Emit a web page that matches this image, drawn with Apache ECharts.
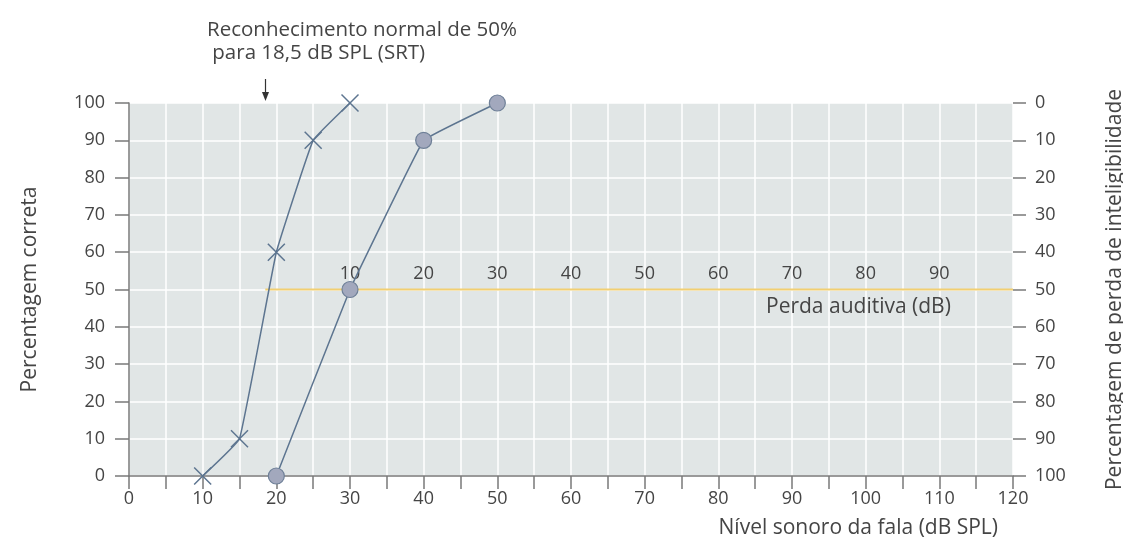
<!DOCTYPE html>
<html><head><meta charset="utf-8">
<script src="https://cdn.jsdelivr.net/npm/echarts@6/dist/echarts.min.js"></script>
<style>html,body{margin:0;padding:0;background:#fff}#c{width:1123px;height:546px}</style>
</head><body><div id="c"></div>
<script>
// Data
const normalCurve = [[10,0],[15,10],[20,60],[25,90],[30,100]];
const lossCurve = [[20,0],[30,50],[40,90],[50,100]];
const srtLine = [[18.5,50],[120,50]];
const hearingLossTicks = [10,20,30,40,50,60,70,80,90];
const xTitle = 'Nível sonoro da fala (dB SPL)';
const yLeftTitle = 'Percentagem correta';
const yRightTitle = 'Percentagem de perda de inteligibilidade';
const lossTitle = 'Perda auditiva (dB)';
const annotation = 'Reconhecimento normal de 50%\n para 18,5 dB SPL (SRT)';

const FONT = 'Open Sans';
const TXT = '#454545';
const AX = '#7a7a7a';
const LINE = '#5d7590';

const chart = echarts.init(document.getElementById('c'));
chart.setOption({
  animation: false,
  textStyle: {fontFamily: FONT},
  grid: {left: 129, right: 110, top: 103, bottom: 70, show: true, backgroundColor: '#e1e6e6', borderWidth: 0,
         containLabel: false, outerBoundsMode: 'none'},
  xAxis: [{
    type: 'value', min: 0, max: 120, interval: 5, position: 'bottom',
    axisLine: {show: true, onZero: false, lineStyle: {color: AX, width: 1.5}},
    axisTick: {show: true, length: 13, lineStyle: {color: AX, width: 1.5}},
    axisLabel: {color: TXT, fontSize: 18, margin: 14, formatter: v => (v % 10 === 0 ? String(v) : '')},
    splitLine: {show: true, lineStyle: {color: '#ffffff', width: 1.5}},
    name: xTitle, nameLocation: 'end', nameGap: 0,
    nameTextStyle: {color: TXT, fontSize: 21, align: 'right', verticalAlign: 'top', padding: [42, 15, 0, 0]}
  }, {
    type: 'value', min: -20, max: 100, interval: 10, position: 'top', offset: -187,
    axisLine: {show: false, onZero: false}, axisTick: {show: false}, splitLine: {show: false},
    axisLabel: {color: TXT, fontSize: 18, margin: 7,
      formatter: v => (hearingLossTicks.indexOf(v) >= 0 ? String(v) : '')}
  }],
  yAxis: [{
    type: 'value', min: 0, max: 100, interval: 10, position: 'left',
    axisLine: {show: true, onZero: false, lineStyle: {color: AX, width: 1.5}},
    axisTick: {show: true, length: 14, lineStyle: {color: AX, width: 1.5}},
    axisLabel: {color: TXT, fontSize: 18, margin: 24},
    splitLine: {show: true, lineStyle: {color: '#ffffff', width: 1.5}},
    name: yLeftTitle, nameLocation: 'middle', nameGap: 88, nameRotate: 90,
    nameTextStyle: {color: TXT, fontSize: 21}
  }, {
    type: 'value', min: 0, max: 100, interval: 10, position: 'right', inverse: true,
    axisLine: {show: false, onZero: false},
    axisTick: {show: true, length: 13, lineStyle: {color: AX, width: 1.5}},
    axisLabel: {color: TXT, fontSize: 18, margin: 22},
    splitLine: {show: false},
    name: yRightTitle, nameLocation: 'middle', nameGap: 92, nameRotate: 90,
    nameTextStyle: {color: TXT, fontSize: 21}
  }],
  series: [{
    type: 'line', data: srtLine, symbol: 'none', silent: true,
    lineStyle: {color: '#f2cf72', width: 2}, z: 1
  }, {
    type: 'line', data: normalCurve, smooth: 0.08,
    symbol: 'path://M0,0L10,10M10,0L0,10', symbolSize: 17,
    itemStyle: {color: 'none', borderColor: LINE, borderWidth: 1.5},
    lineStyle: {color: LINE, width: 1.5}, z: 3
  }, {
    type: 'line', data: lossCurve, smooth: 0.05,
    symbol: 'circle', symbolSize: 16,
    itemStyle: {color: '#a2a8bd', borderColor: '#6f8098', borderWidth: 1.2},
    lineStyle: {color: LINE, width: 1.5}, z: 4
  }],
  graphic: [{
    type: 'text', left: 207, top: 19, z: 100,
    style: {text: annotation, fill: TXT, fontSize: 20.5, fontFamily: FONT, lineHeight: 23}
  }, {
    type: 'line', z: 100, shape: {x1: 265.5, y1: 79, x2: 265.5, y2: 95}, style: {stroke: '#333', lineWidth: 1.2}
  }, {
    type: 'polygon', z: 100, shape: {points: [[262, 92], [269, 92], [265.5, 101]]}, style: {fill: '#333'}
  }, {
    type: 'text', left: 766, top: 297, z: 100,
    style: {text: lossTitle, fill: TXT, fontSize: 21, fontFamily: FONT}
  }]
});
</script></body></html>
